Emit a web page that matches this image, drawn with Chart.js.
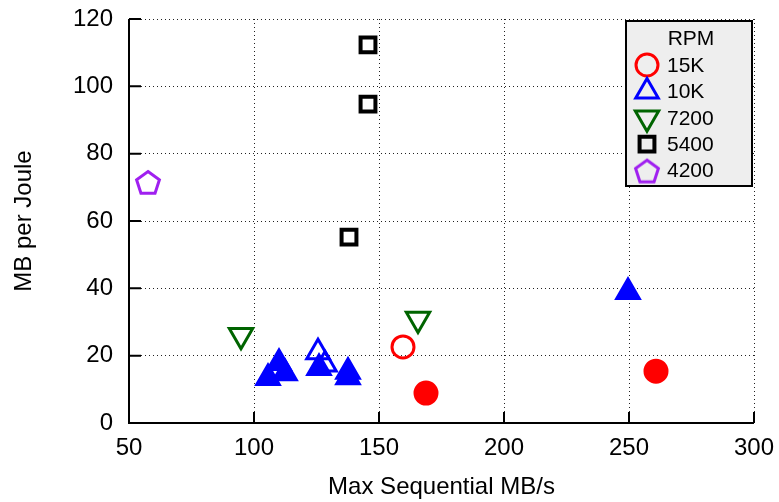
<!DOCTYPE html>
<html>
<head>
<meta charset="utf-8">
<script src="https://cdn.jsdelivr.net/npm/chart.js@4/dist/chart.umd.min.js"></script>
<style>
  html, body { margin: 0; padding: 0; background: #fff; }
  #wrap { width: 779px; height: 502px; }
</style>
</head>
<body>
<div id="wrap"><canvas id="chart"></canvas></div>
<script>
// RPM groups
const rpmLabels = ['15K', '10K', '7200', '5400', '4200'];
const rpmColors = ['#ff0000', '#0000ff', '#006400', '#000000', '#a020f0'];

const x15k = [159.6, 168.8, 260.8];
const y15k = [22.6, 8.9, 15.4];
const filled15k = [false, true, true];

const x10k = [125.6, 128.4, 110.0, 105.6, 112.4, 126.0, 137.6, 137.6, 249.6];
const y10k = [21.0, 17.4, 17.8, 13.4, 14.8, 16.3, 15.2, 13.6, 38.9];
const filled10k = [false, false, true, true, true, true, true, true, true];

const x7200 = [94.8, 165.6];
const y7200 = [26.1, 30.9];

const x5400 = [145.6, 145.6, 138.0];
const y5400 = [112.3, 94.7, 55.2];

const x4200 = [57.6];
const y4200 = [71.6];

const xTickValues = [50, 100, 150, 200, 250, 300];
const yTickValues = [0, 20, 40, 60, 80, 100, 120];

const FONT = "'Liberation Sans', Arial, Helvetica, sans-serif";

function pts(xs, ys) {
  return xs.map((x, i) => ({ x: x, y: ys[i] }));
}

function fills(flags, color) {
  return flags.map(f => f ? color : 'rgba(0,0,0,0)');
}

// gnuplot-style open pentagon, drawn once onto a small canvas
function makePentagon(color, r, lw) {
  const size = Math.ceil(2 * r + 2 * lw);
  const c = document.createElement('canvas');
  c.width = size; c.height = size;
  const g = c.getContext('2d');
  g.strokeStyle = color;
  g.lineWidth = lw;
  g.beginPath();
  for (let i = 0; i < 5; i++) {
    const a = -Math.PI / 2 + i * 2 * Math.PI / 5;
    const px = size / 2 + r * Math.cos(a);
    const py = size / 2 + 1.5 + r * Math.sin(a);
    if (i === 0) g.moveTo(px, py); else g.lineTo(px, py);
  }
  g.closePath();
  g.stroke();
  return c;
}

const pentagon = makePentagon(rpmColors[4], 12, 3);

const datasets = [
  { label: rpmLabels[0], data: pts(x15k, y15k), pointStyle: 'circle', pointRadius: 11,
    pointBorderWidth: 3, borderColor: rpmColors[0], pointBackgroundColor: fills(filled15k, rpmColors[0]) },
  { label: rpmLabels[1], data: pts(x10k, y10k), pointStyle: 'triangle', pointRadius: 13,
    pointBorderWidth: 3, borderColor: rpmColors[1], pointBackgroundColor: fills(filled10k, rpmColors[1]) },
  { label: rpmLabels[2], data: pts(x7200, y7200), pointStyle: 'triangle', rotation: 180, pointRadius: 13.5,
    pointBorderWidth: 3, borderColor: rpmColors[2], pointBackgroundColor: 'rgba(0,0,0,0)' },
  { label: rpmLabels[3], data: pts(x5400, y5400), pointStyle: 'rect', pointRadius: 10.5,
    pointBorderWidth: 4, borderColor: rpmColors[3], pointBackgroundColor: 'rgba(0,0,0,0)' },
  { label: rpmLabels[4], data: pts(x4200, y4200), pointStyle: pentagon, pointRadius: 12,
    pointBorderWidth: 3, borderColor: rpmColors[4], pointBackgroundColor: 'rgba(0,0,0,0)' }
];

// solid axis lines on left and bottom plus short ticks pointing inward
const axesAndTicks = {
  id: 'axesAndTicks',
  afterDatasetsDraw(chart) {
    const ctx = chart.ctx, a = chart.chartArea;
    const xs = chart.scales.x, ys = chart.scales.y;
    ctx.save();
    ctx.setLineDash([]);
    ctx.strokeStyle = '#000';
    ctx.lineWidth = 2;
    ctx.beginPath();
    ctx.moveTo(a.left, a.top);
    ctx.lineTo(a.left, a.bottom);
    ctx.lineTo(a.right, a.bottom);
    xTickValues.forEach(v => {
      const px = xs.getPixelForValue(v);
      ctx.moveTo(px, a.bottom);
      ctx.lineTo(px, a.bottom - 11);
    });
    yTickValues.forEach(v => {
      const py = ys.getPixelForValue(v);
      ctx.moveTo(a.left, py);
      ctx.lineTo(a.left + 12, py);
    });
    ctx.stroke();
    ctx.restore();
  }
};

// boxed legend with title, drawn over the grid
const boxLegend = {
  id: 'boxLegend',
  afterDraw(chart) {
    const ctx = chart.ctx, a = chart.chartArea;
    const w = 126, h = 165;
    const left = a.right - w - 2, top = a.top + 2;
    ctx.save();
    ctx.setLineDash([]);
    ctx.fillStyle = '#eeeeee';
    ctx.fillRect(left, top, w, h);
    ctx.strokeStyle = '#000';
    ctx.lineWidth = 2;
    ctx.strokeRect(left, top, w, h);

    ctx.fillStyle = '#000';
    ctx.font = '21px ' + FONT;
    ctx.textAlign = 'center';
    ctx.textBaseline = 'middle';
    ctx.fillText('RPM', left + w / 2 + 2, top + 18);

    ctx.textAlign = 'left';
    chart.data.datasets.forEach((ds, i) => {
      const cy = top + 44 + i * 26.4;
      const cx = left + 21;
      ctx.fillStyle = 'rgba(0,0,0,0)';
      ctx.strokeStyle = rpmColors[i];
      ctx.lineWidth = ds.pointBorderWidth;
      Chart.helpers.drawPoint(ctx, {
        pointStyle: ds.pointStyle,
        rotation: ds.rotation || 0,
        radius: ds.pointRadius,
        borderWidth: ds.pointBorderWidth
      }, cx, cy);
      ctx.fillStyle = '#000';
      ctx.fillText(ds.label, left + 41, cy + 1);
    });
    ctx.restore();
  }
};

Chart.defaults.font.family = FONT;
Chart.defaults.color = '#000';

new Chart(document.getElementById('chart'), {
  type: 'scatter',
  data: { datasets: datasets },
  options: {
    responsive: true,
    maintainAspectRatio: false,
    animation: false,
    events: [],
    layout: { padding: { top: 19, right: 25, left: 0, bottom: 0 } },
    plugins: {
      legend: { display: false },
      tooltip: { enabled: false }
    },
    scales: {
      x: {
        type: 'linear',
        min: 50, max: 300,
        afterBuildTicks: s => { s.ticks = xTickValues.map(v => ({ value: v })); },
        afterFit: s => { s.height = 79; s.paddingLeft = 0; s.paddingRight = 0; },
        grid: { color: '#222', lineWidth: 1, drawTicks: false },
        border: { display: false, dash: [1, 3] },
        ticks: { font: { size: 24 }, padding: 11, maxRotation: 0 },
        title: { display: true, text: 'Max Sequential MB/s', font: { size: 24 },
                 padding: { top: 2, bottom: 0 } }
      },
      y: {
        type: 'linear',
        min: 0, max: 120,
        afterBuildTicks: s => { s.ticks = yTickValues.map(v => ({ value: v })); },
        afterFit: s => { s.width = 129; s.paddingTop = 0; s.paddingBottom = 0; },
        grid: { color: '#222', lineWidth: 1, drawTicks: false },
        border: { display: false, dash: [1, 3] },
        ticks: { font: { size: 24 }, padding: 16 },
        title: { display: true, text: 'MB per Joule', font: { size: 24 },
                 padding: { top: 10, bottom: 0 } }
      }
    }
  },
  plugins: [axesAndTicks, boxLegend]
});
</script>
</body>
</html>
